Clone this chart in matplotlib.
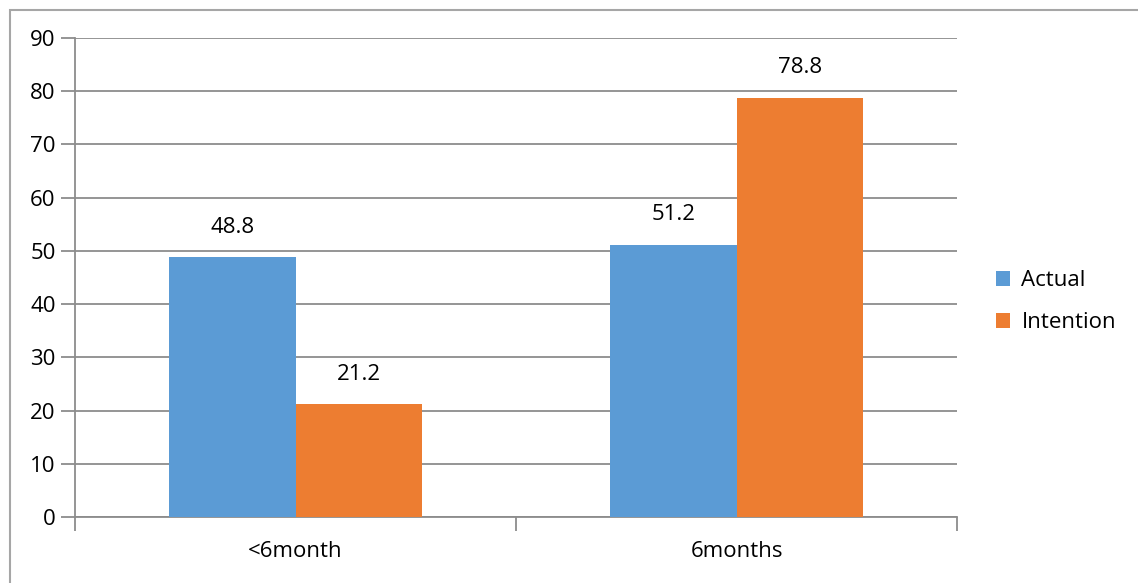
import numpy as np
import matplotlib.pyplot as plt
from matplotlib.patches import Rectangle

categories = ['<6month', '6months']
actual = [48.8, 51.2]
intention = [21.2, 78.8]
yticks = list(range(0, 100, 10))

plt.rcParams['font.family'] = ['Open Sans', 'DejaVu Sans']

W, H = 1138, 583
fs = 16
fig = plt.figure(figsize=(W / 100, H / 100), dpi=100)

# outer chart frame (runs off the right and bottom edges)
fig.patches.append(Rectangle((10 / W, -0.1), 1.2, 1 - 10 / H + 0.1, transform=fig.transFigure,
                             fill=False, edgecolor='#a6a6a6', linewidth=1.5))

ax = fig.add_axes([75 / W, 1 - 517 / H, (957 - 75) / W, (517 - 38) / H])

grey = '#8c8c8c'
x = np.arange(len(categories))
w = 0.286
b1 = ax.bar(x - w / 2, actual, w, color='#5b9bd5', label='Actual', zorder=3)
b2 = ax.bar(x + w / 2, intention, w, color='#ed7d31', label='Intention', zorder=3)

for bars, vals in ((b1, actual), (b2, intention)):
    for r, v in zip(bars, vals):
        ax.text(r.get_x() + r.get_width() / 2, v + 5.6, f'{v}', ha='center', va='center',
                fontsize=fs, color='#000000')

ax.set_xlim(-0.5, 1.5)
ax.set_ylim(0, 90)
ax.set_yticks(yticks)
ax.yaxis.grid(True, color=grey, linewidth=1.3, zorder=0)
ax.set_axisbelow(True)

ax.set_xticks([-0.5, 0.5, 1.5], minor=False)
ax.set_xticklabels([])
ax.set_xticks(x, minor=True)
ax.set_xticklabels(categories, minor=True, fontsize=fs)
ax.tick_params(axis='x', which='major', length=10, width=1.3, color=grey, direction='out')
ax.tick_params(axis='x', which='minor', length=0, pad=17)
ax.tick_params(axis='y', length=10, width=1.3, color=grey, labelsize=fs, pad=4)

for s in ('top', 'right'):
    ax.spines[s].set_visible(False)
for s in ('left', 'bottom'):
    ax.spines[s].set_color(grey)
    ax.spines[s].set_linewidth(1.3)

ax.legend(loc='center left', bbox_to_anchor=(1.034, 0.5 - 24 / 479), frameon=False, fontsize=fs,
          handlelength=0.65, handleheight=0.65, handletextpad=0.5, labelspacing=0.95,
          borderaxespad=0)

fig.savefig('out.png', dpi=100)
